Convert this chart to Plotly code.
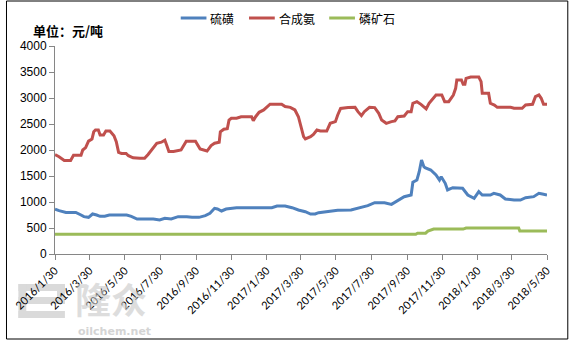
import plotly.graph_objects as go

# 硫磺 (sulphur) price, 元/吨
sulphur_dates = [
    "2016-01-30", "2016-02-06", "2016-02-18", "2016-03-06", "2016-03-15", "2016-03-20",
    "2016-03-28", "2016-04-04", "2016-04-11", "2016-04-17", "2016-04-25", "2016-05-03",
    "2016-06-02", "2016-06-10", "2016-06-20", "2016-07-18", "2016-07-29", "2016-08-07",
    "2016-08-18", "2016-08-30", "2016-09-14", "2016-09-23", "2016-10-05", "2016-10-16",
    "2016-10-24", "2016-11-01", "2016-11-06", "2016-11-13", "2016-11-21", "2016-11-30",
    "2016-12-09", "2017-02-08", "2017-02-17", "2017-03-03", "2017-03-15", "2017-03-26",
    "2017-04-04", "2017-04-07", "2017-04-16", "2017-04-24", "2017-04-30", "2017-05-20",
    "2017-06-02", "2017-06-25", "2017-07-07", "2017-07-24", "2017-08-05", "2017-08-22",
    "2017-09-03", "2017-09-12", "2017-09-25", "2017-10-07", "2017-10-10", "2017-10-17",
    "2017-10-21", "2017-10-25", "2017-10-29", "2017-10-31", "2017-11-10", "2017-11-19",
    "2017-11-25", "2017-11-28", "2017-12-05", "2017-12-09", "2017-12-18", "2018-01-04",
    "2018-01-13", "2018-01-24", "2018-02-01", "2018-02-07", "2018-02-21", "2018-02-27",
    "2018-03-10", "2018-03-19", "2018-04-03", "2018-04-14", "2018-04-23", "2018-05-07",
    "2018-05-16", "2018-05-22", "2018-05-30",
]
sulphur_values = [
    865, 833, 800, 800, 750, 718,
    705, 769, 750, 725, 725, 750,
    750, 725, 673, 673, 654, 686,
    673, 718, 718, 705, 705, 737,
    782, 878, 865, 827, 865, 878,
    891, 891, 923, 923, 891, 846,
    827, 814, 769, 769, 795, 814,
    840, 846, 878, 929, 987, 987,
    955, 1019, 1102, 1135, 1379, 1423,
    1583, 1808, 1679, 1660, 1615, 1519,
    1423, 1487, 1360, 1231, 1276, 1263,
    1135, 1071, 1199, 1135, 1135, 1167,
    1135, 1058, 1038, 1038, 1083, 1103,
    1167, 1154, 1135,
]

# 合成氨 (synthetic ammonia) price, 元/吨
ammonia_dates = [
    "2016-01-30", "2016-02-06", "2016-02-15", "2016-02-26", "2016-03-02", "2016-03-15",
    "2016-03-18", "2016-03-23", "2016-03-28", "2016-04-03", "2016-04-06", "2016-04-09",
    "2016-04-14", "2016-04-17", "2016-04-23", "2016-04-27", "2016-05-04", "2016-05-11",
    "2016-05-15", "2016-05-19", "2016-05-24", "2016-06-01", "2016-06-05", "2016-06-13",
    "2016-06-25", "2016-07-03", "2016-07-09", "2016-07-18", "2016-07-24", "2016-08-01",
    "2016-08-07", "2016-08-11", "2016-08-14", "2016-08-22", "2016-08-30", "2016-09-04",
    "2016-09-13", "2016-09-29", "2016-10-07", "2016-10-19", "2016-10-26", "2016-11-01",
    "2016-11-09", "2016-11-11", "2016-11-17", "2016-11-23", "2016-11-26", "2016-11-30",
    "2016-12-09", "2016-12-17", "2017-01-04", "2017-01-07", "2017-01-11", "2017-01-17",
    "2017-01-25", "2017-02-05", "2017-02-25", "2017-03-03", "2017-03-12", "2017-03-20",
    "2017-03-26", "2017-03-30", "2017-04-04", "2017-04-07", "2017-04-16", "2017-04-21",
    "2017-04-27", "2017-05-03", "2017-05-14", "2017-05-20", "2017-05-29", "2017-06-02",
    "2017-06-07", "2017-06-20", "2017-07-02", "2017-07-07", "2017-07-13", "2017-07-18",
    "2017-07-27", "2017-08-05", "2017-08-12", "2017-08-17", "2017-08-25", "2017-09-03",
    "2017-09-09", "2017-09-14", "2017-09-25", "2017-10-01", "2017-10-07", "2017-10-10",
    "2017-10-17", "2017-10-24", "2017-11-02", "2017-11-07", "2017-11-16", "2017-11-19",
    "2017-11-29", "2017-12-04", "2017-12-11", "2017-12-19", "2017-12-23", "2017-12-25",
    "2018-01-02", "2018-01-05", "2018-01-08", "2018-01-10", "2018-01-18", "2018-02-01",
    "2018-02-05", "2018-02-07", "2018-02-18", "2018-02-21", "2018-02-28", "2018-03-05",
    "2018-03-28", "2018-04-03", "2018-04-17", "2018-04-23", "2018-05-05", "2018-05-10",
    "2018-05-16", "2018-05-20", "2018-05-24", "2018-05-30",
]
ammonia_values = [
    1910, 1870, 1800, 1800, 1900, 1900,
    2000, 2045, 2170, 2210, 2350, 2385,
    2385, 2290, 2290, 2365, 2365, 2275,
    2160, 1955, 1935, 1935, 1890, 1850,
    1840, 1840, 1915, 2045, 2130, 2150,
    2190, 2065, 1970, 1970, 1985, 2000,
    2170, 2170, 2020, 1980, 2085, 2130,
    2150, 2350, 2400, 2410, 2575, 2610,
    2610, 2640, 2640, 2565, 2640, 2725,
    2770, 2880, 2880, 2835, 2820, 2770,
    2640, 2450, 2256, 2212, 2256, 2300,
    2385, 2365, 2365, 2513, 2545, 2673,
    2800, 2815, 2820, 2737, 2660, 2737,
    2820, 2815, 2705, 2577, 2513, 2545,
    2560, 2640, 2654, 2737, 2737, 2898,
    2930, 2878, 2790, 2898, 3006, 3058,
    3058, 2930, 2930, 3058, 3186, 3346,
    3346, 3263, 3263, 3378, 3404, 3404,
    3314, 3090, 3090, 2898, 2865, 2821,
    2821, 2802, 2802, 2865, 2878, 3025,
    3058, 2994, 2878, 2878,
]

# 磷矿石 (phosphate rock) price, 元/吨
rock_dates = [
    "2016-01-30", "2017-10-15", "2017-10-18", "2017-11-01", "2017-11-05", "2017-11-15",
    "2018-01-05", "2018-01-10", "2018-04-11", "2018-04-13", "2018-05-30",
]
rock_values = [380, 380, 400, 400, 440, 480, 480, 500, 500, 440, 440]

tick_dates = [
    "2016-01-30", "2016-03-30", "2016-05-30", "2016-07-30", "2016-09-30", "2016-11-30",
    "2017-01-30", "2017-03-30", "2017-05-30", "2017-07-30", "2017-09-30", "2017-11-30",
    "2018-01-30", "2018-03-30", "2018-05-30",
]
tick_labels = [
    "2016/1/30", "2016/3/30", "2016/5/30", "2016/7/30", "2016/9/30", "2016/11/30",
    "2017/1/30", "2017/3/30", "2017/5/30", "2017/7/30", "2017/9/30", "2017/11/30",
    "2018/1/30", "2018/3/30", "2018/5/30",
]
y_ticks = [0, 500, 1000, 1500, 2000, 2500, 3000, 3500, 4000]

series_names = ["硫磺", "合成氨", "磷矿石"]
series_colors = ["#4F81BD", "#C0504D", "#9BBB59"]

CJK = "Noto Sans CJK SC"

fig = go.Figure()
for dates, values, name, color in zip(
    [sulphur_dates, ammonia_dates, rock_dates],
    [sulphur_values, ammonia_values, rock_values],
    series_names, series_colors,
):
    fig.add_trace(go.Scatter(
        x=dates, y=values, name=name, mode="lines",
        line=dict(color=color, width=3), showlegend=False,
    ))

W, H = 570, 343
L, R, T, B = 50, 23, 46, 89
pw, ph = W - L - R, H - T - B


def px_x(p):
    return (p - L) / pw


def px_y(p):
    return (H - B - p) / ph


shapes = []
annotations = []

# legend drawn across the top
legend_x = [177, 246, 327]
for name, color, lx in zip(series_names, series_colors, legend_x):
    shapes.append(dict(type="line", xref="paper", yref="paper",
                       x0=px_x(lx), x1=px_x(lx + 26), y0=px_y(18), y1=px_y(18),
                       line=dict(color=color, width=3)))
    annotations.append(dict(text=name, xref="paper", yref="paper",
                            x=px_x(lx + 28), y=px_y(18), xanchor="left", yanchor="middle",
                            showarrow=False, font=dict(family=CJK, size=12, color="#000")))

# unit label
annotations.append(dict(text="<b>单位：元/吨</b>", xref="paper", yref="paper",
                        x=px_x(26), y=px_y(30), xanchor="left", yanchor="middle",
                        showarrow=False, font=dict(family=CJK, size=13, color="#000")))

# watermark: block "e" logo drawn beneath the tick labels
logo_grey = "#dadada"
for (x0, x1, y0, y1) in [
    (13, 60, 284, 291),   # top bar
    (13, 21, 284, 318),   # left stem
    (13, 60, 297, 304),   # middle bar
    (52, 60, 284, 304),   # right upper stem
    (13, 60, 311, 318),   # bottom bar
]:
    shapes.append(dict(type="rect", xref="paper", yref="paper", layer="below",
                       x0=px_x(x0), x1=px_x(x1), y0=px_y(y1), y1=px_y(y0),
                       line=dict(width=0), fillcolor=logo_grey))
annotations.append(dict(text="<b>隆众</b>", xref="paper", yref="paper",
                        x=px_x(107), y=px_y(298), xanchor="center", yanchor="middle",
                        showarrow=False, opacity=0.6,
                        font=dict(family=CJK, size=36, color="#c8c8c8")))
annotations.append(dict(text="<b>oilchem.net</b>", xref="paper", yref="paper",
                        x=px_x(110), y=px_y(331), xanchor="center", yanchor="middle",
                        showarrow=False, opacity=0.6,
                        font=dict(family="DejaVu Sans", size=11, color="#b8b8b8")))

# outer frame
shapes.append(dict(type="rect", xref="paper", yref="paper",
                   x0=px_x(1), x1=px_x(568), y0=px_y(339), y1=px_y(1),
                   line=dict(color="#000", width=1)))

fig.update_layout(
    width=W, height=H,
    margin=dict(l=L, r=R, t=T, b=B, pad=0),
    paper_bgcolor="white", plot_bgcolor="white",
    shapes=shapes, annotations=annotations,
    xaxis=dict(
        type="date", range=[tick_dates[0], tick_dates[-1]],
        tickmode="array", tickvals=tick_dates, ticktext=tick_labels,
        tickangle=-45, ticks="outside", ticklen=5, tickcolor="#868686",
        showline=True, linecolor="#868686", linewidth=1,
        showgrid=False, zeroline=False,
        tickfont=dict(family="Lato", size=11, color="#000"),
    ),
    yaxis=dict(
        range=[0, 4000], tickmode="array", tickvals=y_ticks,
        ticks="outside", ticklen=5, tickcolor="#868686",
        showline=True, linecolor="#868686", linewidth=1,
        showgrid=False, zeroline=False,
        tickfont=dict(family="Liberation Sans", size=12, color="#000"),
    ),
)

fig.write_html("out.html")
